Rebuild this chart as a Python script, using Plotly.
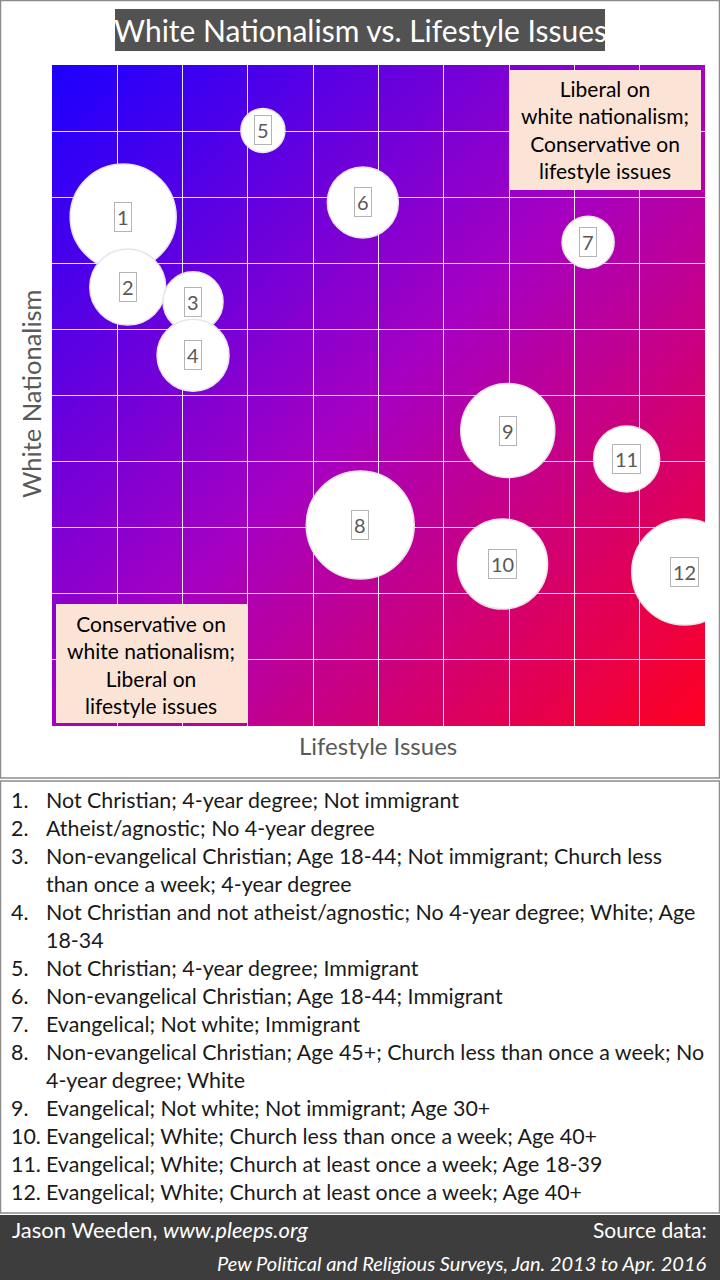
import base64
import plotly.graph_objects as go

# ---------------- data ----------------
ids = ["1", "2", "3", "4", "5", "6", "7", "8", "9", "10", "11", "12"]
lifestyle = [1.09, 1.16, 2.16, 2.16, 3.23, 4.76, 8.21, 4.72, 6.98, 6.90, 8.80, 9.69]
white_nat = [7.70, 6.64, 6.42, 5.61, 9.01, 7.92, 7.32, 3.04, 4.47, 2.45, 4.04, 2.33]
bubble_size = [106, 76, 60, 72, 44, 71, 52, 108, 94, 90, 66, 106]

descriptions = [
    ["Not Christian; 4-year degree; Not immigrant"],
    ["Atheist/agnostic; No 4-year degree"],
    ["Non-evangelical Christian; Age 18-44; Not immigrant; Church less",
     "than once a week; 4-year degree"],
    ["Not Christian and not atheist/agnostic; No 4-year degree; White; Age",
     "18-34"],
    ["Not Christian; 4-year degree; Immigrant"],
    ["Non-evangelical Christian; Age 18-44; Immigrant"],
    ["Evangelical; Not white; Immigrant"],
    ["Non-evangelical Christian; Age 45+; Church less than once a week; No",
     "4-year degree; White"],
    ["Evangelical; Not white; Not immigrant; Age 30+"],
    ["Evangelical; White; Church less than once a week; Age 40+"],
    ["Evangelical; White; Church at least once a week; Age 18-39"],
    ["Evangelical; White; Church at least once a week; Age 40+"],
]

title_text = "White Nationalism vs. Lifestyle Issues"
x_title = "Lifestyle Issues"
y_title = "White Nationalism"
box_top_right = ["Liberal on", "white nationalism;", "Conservative on", "lifestyle issues"]
box_bottom_left = ["Conservative on", "white nationalism;", "Liberal on", "lifestyle issues"]
footer_left = "Jason Weeden, <i>www.pleeps.org</i>"
footer_right_1 = "Source data:"
footer_right_2 = "<i>Pew Political and Religious Surveys, Jan. 2013 to Apr. 2016</i>"

# ---------------- geometry helpers ----------------
W_FIG, H_FIG = 720, 1280
L, R, T, B = 52, 705, 65, 726
PW, PH = R - L, B - T


def px(x):
    return (x - L) / PW


def py(y):
    return (B - y) / PH


FONT = "Lato"
TXT = "#1a1a1a"
LIST_SIZE = 21.4

# gradient background as an svg image
svg = (
    '<svg xmlns="http://www.w3.org/2000/svg" width="200" height="200" '
    'viewBox="0 0 200 200" preserveAspectRatio="none">'
    '<defs><linearGradient id="g" x1="0" y1="0" x2="1" y2="1">'
    '<stop offset="0" stop-color="#1c00ff"/>'
    '<stop offset="0.5" stop-color="#a600c2"/>'
    '<stop offset="1" stop-color="#ff0020"/>'
    '</linearGradient></defs>'
    '<rect width="200" height="200" fill="url(#g)"/></svg>'
)
svg_src = "data:image/svg+xml;base64," + base64.b64encode(svg.encode()).decode()

fig = go.Figure()

fig.add_trace(go.Scatter(
    x=lifestyle, y=white_nat, mode="markers",
    marker=dict(size=bubble_size, sizemode="diameter", color="white",
                opacity=1, line=dict(color="#e6e6e6", width=1.5)),
    hoverinfo="skip", showlegend=False, cliponaxis=True,
))

annotations = []
# bubble labels
for xi, yi, lab in zip(lifestyle, white_nat, ids):
    annotations.append(dict(
        x=xi, y=yi, xref="x", yref="y", text=lab, showarrow=False,
        font=dict(family=FONT, size=20, color="#595959"),
        bordercolor="#b4b4b4", borderwidth=1, borderpad=2, bgcolor="white",
    ))

# title
annotations.append(dict(
    x=px(360), y=py(30), xref="paper", yref="paper", text=title_text,
    showarrow=False, font=dict(family=FONT, size=30, color="white"),
    xanchor="center", yanchor="middle",
))

# axis titles
annotations.append(dict(
    x=px(378), y=py(745), xref="paper", yref="paper", text=x_title,
    showarrow=False, font=dict(family=FONT, size=24, color="#595959"),
    xanchor="center", yanchor="middle",
))
annotations.append(dict(
    x=px(31), y=py(394), xref="paper", yref="paper", text=y_title,
    showarrow=False, font=dict(family=FONT, size=25.5, color="#595959"),
    textangle=-90, xanchor="center", yanchor="middle",
))

# quadrant boxes text
annotations.append(dict(
    x=px(605), y=py(130), xref="paper", yref="paper",
    text="<br>".join(box_top_right), showarrow=False, align="center",
    font=dict(family=FONT, size=21, color="black"),
    xanchor="center", yanchor="middle",
))
annotations.append(dict(
    x=px(151), y=py(664), xref="paper", yref="paper",
    text="<br>".join(box_bottom_left), showarrow=False, align="center",
    font=dict(family=FONT, size=21, color="black"),
    xanchor="center", yanchor="middle",
))

# description list
line_y = 800
for i, lines in enumerate(descriptions):
    annotations.append(dict(
        x=px(9), y=py(line_y), xref="paper", yref="paper", text=f"{i + 1}.",
        showarrow=False, font=dict(family=FONT, size=LIST_SIZE, color=TXT),
        xanchor="left", yanchor="middle",
    ))
    for ln in lines:
        annotations.append(dict(
            x=px(44), y=py(line_y), xref="paper", yref="paper", text=ln,
            showarrow=False, font=dict(family=FONT, size=LIST_SIZE, color=TXT),
            xanchor="left", yanchor="middle",
        ))
        line_y += 28

# footer
annotations.append(dict(
    x=px(10), y=py(1229), xref="paper", yref="paper", text=footer_left,
    showarrow=False, font=dict(family=FONT, size=22, color="white"),
    xanchor="left", yanchor="middle",
))
annotations.append(dict(
    x=px(709), y=py(1229), xref="paper", yref="paper", text=footer_right_1,
    showarrow=False, font=dict(family=FONT, size=21, color="white"),
    xanchor="right", yanchor="middle",
))
annotations.append(dict(
    x=px(709), y=py(1263), xref="paper", yref="paper", text=footer_right_2,
    showarrow=False, font=dict(family=FONT, size=20, color="white"),
    xanchor="right", yanchor="middle",
))

shapes = [
    # chart frame
    dict(type="rect", xref="paper", yref="paper", x0=px(0.5), x1=px(719.5),
         y0=py(0.5), y1=py(778), line=dict(color="#8c8c8c", width=1.5),
         fillcolor="rgba(0,0,0,0)", layer="below"),
    # list frame
    dict(type="rect", xref="paper", yref="paper", x0=px(0.5), x1=px(719.5),
         y0=py(781), y1=py(1213), line=dict(color="#8c8c8c", width=1.5),
         fillcolor="rgba(0,0,0,0)", layer="below"),
    # footer
    dict(type="rect", xref="paper", yref="paper", x0=px(0), x1=px(720),
         y0=py(1215), y1=py(1280), line=dict(width=0),
         fillcolor="#3d3d3d", layer="below"),
    # title box
    dict(type="rect", xref="paper", yref="paper", x0=px(115), x1=px(605),
         y0=py(9), y1=py(51), line=dict(width=0),
         fillcolor="#525252", layer="below"),
    # quadrant boxes
    dict(type="rect", xref="paper", yref="paper", x0=px(509), x1=px(701),
         y0=py(70), y1=py(190), line=dict(width=0),
         fillcolor="#fbe4d6", layer="above"),
    dict(type="rect", xref="paper", yref="paper", x0=px(56), x1=px(247),
         y0=py(604), y1=py(723), line=dict(width=0),
         fillcolor="#fbe4d6", layer="above"),
]

fig.update_layout(
    width=W_FIG, height=H_FIG, autosize=False,
    margin=dict(l=L, r=W_FIG - R, t=T, b=H_FIG - B, pad=0),
    paper_bgcolor="white", plot_bgcolor="#8000d0",
    showlegend=False,
    xaxis=dict(range=[0, 10], dtick=1, tick0=0, showticklabels=False,
               showgrid=True, gridcolor="#e8e8e8", gridwidth=1,
               zeroline=False, showline=False, ticks="", fixedrange=True),
    yaxis=dict(range=[0, 10], dtick=1, tick0=0, showticklabels=False,
               showgrid=True, gridcolor="#e8e8e8", gridwidth=1,
               zeroline=False, showline=False, ticks="", fixedrange=True),
    images=[dict(source=svg_src, xref="x", yref="y", x=0, y=10,
                 sizex=10, sizey=10, sizing="stretch", layer="below",
                 xanchor="left", yanchor="top")],
    annotations=annotations,
    shapes=shapes,
)

fig.write_html(
    "out.html",
    config={"displayModeBar": False},
    post_script="document.body.style.margin='0';document.body.style.padding='0';"
                "document.body.style.overflow='hidden';",
)
